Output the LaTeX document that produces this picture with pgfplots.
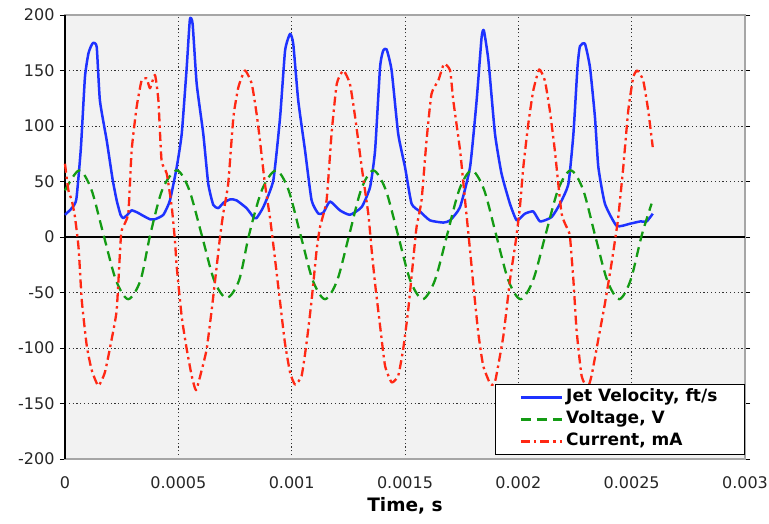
\documentclass[border=0pt]{standalone}
\usepackage{fontspec}
\setmainfont{DejaVu Sans}
\usepackage{pgfplots}
\pgfplotsset{compat=1.18}

\definecolor{jetblue}{RGB}{30,50,255}
\definecolor{voltgreen}{RGB}{20,155,20}
\definecolor{currred}{RGB}{255,40,20}
\definecolor{plotbg}{RGB}{242,242,242}
\definecolor{framegray}{RGB}{166,166,166}

\begin{document}
\begin{tikzpicture}
\useasboundingbox (-65pt,-64pt) rectangle (704pt,459pt);
\begin{axis}[
  at={(0,0)}, anchor=south west,
  scale only axis, width=680pt, height=444pt,
  xmin=0, xmax=0.003, ymin=-200, ymax=200,
  clip=false,
  scaled x ticks=false,
  xtick={0,0.0005,0.001,0.0015,0.002,0.0025,0.003},
  xticklabels={0,0.0005,0.001,0.0015,0.002,0.0025,0.003},
  ytick={-200,-150,-100,-50,0,50,100,150,200},
  yticklabels={-200,-150,-100,-50,0,50,100,150,200},
  tick align=outside,
  major tick length=5pt,
  xtick style={draw=none},
  ytick style={black, line width=0.8pt},
  ticklabel style={font=\fontsize{16}{19}\selectfont, text=black!85},
  xticklabel style={yshift=-9pt},
  yticklabel style={xshift=-2pt},
  xlabel={Time, s},
  xlabel style={font=\bfseries\fontsize{18.5}{22}\selectfont, yshift=-2pt},
  axis background/.style={fill=plotbg},
  axis line style={draw=framegray, line width=1.5pt},
  grid=major,
  grid style={black!80, line width=0.8pt, dash pattern=on 1.2pt off 2.6pt},
  legend style={at={(1,0.009)}, anchor=south east, draw=black, line width=1.2pt,
    fill=white, font=\bfseries\fontsize{17}{19}\selectfont,
    inner xsep=24pt, inner ysep=2pt,
    nodes={inner sep=3pt, text height=12pt, text depth=4pt}},
  legend cell align=left,
  legend image code/.code={\draw[#1] (0pt,0pt) -- (41pt,0pt);},
]
% zero line and left axis
\addplot[black, line width=1.2pt, forget plot] coordinates {(0,0)(0.003,0)};
\addplot[black, line width=1.3pt, forget plot] coordinates {(0,-200)(0,200)};

% Jet velocity
\addplot[jetblue, line width=2.5pt, line join=round, smooth, tension=0.3] coordinates {
(0,20)(0.00003,26)(0.00005,34)(0.00007,80)(0.000088,144)(0.000103,165)
(0.000115,172)(0.000125,175)(0.00014,171)(0.000154,123)(0.000184,87)
(0.00021,52)(0.000228,33)(0.000245,20)(0.000257,17)(0.000275,20)
(0.000294,24)(0.00032,22)(0.000346,19)(0.000375,16)(0.000397,16)
(0.000434,20)(0.000463,33)(0.000493,63)(0.000515,93)(0.000537,153)
(0.000551,196)(0.000563,192)(0.000581,138)(0.00061,93)(0.000632,48)
(0.000654,29)(0.000676,26)(0.0007,31)(0.00073,34)(0.000757,33)
(0.000801,26)(0.000831,18)(0.000845,17)(0.000875,27)(0.000919,51)
(0.000949,108)(0.000971,168)(0.000993,183)(0.001007,174)(0.001029,123)
(0.001059,78)(0.001088,33)(0.001118,21)(0.00114,22)(0.001169,32)
(0.001213,24)(0.001257,20)(0.001309,27)(0.001346,45)(0.001368,78)
(0.00139,153)(0.001404,168)(0.001419,169)(0.001441,150)(0.00147,93)
(0.0015,63)(0.001529,30)(0.001566,23)(0.00161,15)(0.001669,13)
(0.001699,15)(0.001743,27)(0.001787,63)(0.001816,123)(0.001838,180)
(0.001848,186)(0.001868,159)(0.001897,93)(0.001926,57)(0.001963,30)
(0.001993,15)(0.002029,21)(0.002066,23)(0.002096,14)(0.002147,18)
(0.002184,30)(0.002221,48)(0.002243,93)(0.002261,153)(0.002272,172)
(0.002294,174)(0.002316,153)(0.002338,108)(0.002353,63)(0.002382,30)
(0.002434,10)(0.002493,12)(0.002537,14)(0.002566,14)(0.002593,21)
};
\addlegendentry{Jet Velocity, ft/s}

% Voltage
\addplot[voltgreen, line width=2.3pt, smooth, dash pattern=on 10pt off 6pt] coordinates {
(0,42)(0.000062,60)(0.000116,43)(0.00017,2)(0.000225,-39)(0.000279,-56)
(0.000333,-39)(0.000376,2)(0.00043,43)(0.000493,60)(0.000547,43)
(0.000603,2)(0.000658,-39)(0.000713,-55)(0.000768,-39)(0.000812,2)
(0.000870,43)(0.000931,60)(0.000985,43)(0.001039,2)(0.001093,-39)
(0.001147,-56)(0.001201,-39)(0.001254,2)(0.001307,43)(0.00136,60)
(0.001414,43)(0.001469,2)(0.001523,-39)(0.001578,-56)(0.001632,-39)
(0.001686,2)(0.00174,43)(0.001794,60)(0.001848,43)(0.001902,2)
(0.001956,-39)(0.00201,-56)(0.002065,-39)(0.00212,2)(0.002176,43)
(0.002231,60)(0.002285,43)(0.002338,2)(0.002392,-39)(0.002445,-56)
(0.002495,-39)(0.002545,2)(0.002588,30)
};
\addlegendentry{Voltage, V}

% Current
\addplot[currred, line width=2.3pt, line join=round, smooth, tension=0.3, dash pattern=on 9pt off 4pt on 2.5pt off 4pt] coordinates {
(0,66)(0.000015,42)(0.00003,33)(0.000044,18)(0.00006,-10)(0.000074,-57)
(0.000096,-98)(0.000118,-120)(0.000147,-134)(0.000176,-122)(0.000206,-92)
(0.000228,-66)(0.000243,-12)(0.00025,6)(0.000279,21)(0.000294,78)
(0.000316,117)(0.000338,141)(0.00036,143)(0.000375,134)(0.000397,146)
(0.000412,123)(0.000426,69)(0.000449,57)(0.000471,27)(0.000485,-3)
(0.000493,-27)(0.000515,-72)(0.000537,-101)(0.000559,-125)(0.000578,-138)
(0.000603,-120)(0.000625,-101)(0.000647,-66)(0.000669,-27)(0.000684,0)
(0.000698,21)(0.00072,48)(0.000743,108)(0.000765,135)(0.000794,150)
(0.000824,138)(0.000846,110)(0.00086,87)(0.000882,48)(0.000904,18)
(0.000922,-12)(0.000948,-57)(0.00097,-95)(0.000993,-122)(0.001015,-133)
(0.001044,-125)(0.001066,-95)(0.001088,-57)(0.00111,-12)(0.001125,9)
(0.001154,33)(0.001176,93)(0.001199,138)(0.001228,150)(0.001257,138)
(0.00128,108)(0.001309,63)(0.001338,21)(0.001353,-12)(0.001368,-42)
(0.00139,-80)(0.001412,-116)(0.001441,-131)(0.00147,-125)(0.001492,-101)
(0.001514,-66)(0.001536,-21)(0.001551,9)(0.001573,33)(0.001595,87)
(0.001617,129)(0.001647,141)(0.001672,156)(0.001699,150)(0.001713,123)
(0.001743,78)(0.001765,33)(0.001787,-12)(0.001801,-42)(0.001823,-86)
(0.001845,-116)(0.001875,-132)(0.001888,-133)(0.0019,-128)(0.001934,-89)
(0.001963,-39)(0.001985,-9)(0.001993,3)(0.002007,27)(0.002022,63)
(0.002044,102)(0.002066,132)(0.002092,151)(0.002117,141)(0.002139,114)
(0.002161,78)(0.002191,21)(0.00222,6)(0.002228,0)(0.002243,-39)
(0.002257,-84)(0.002279,-125)(0.002305,-136)(0.002323,-125)(0.002353,-92)
(0.002382,-60)(0.002411,-24)(0.002433,6)(0.002441,18)(0.002463,63)
(0.002485,114)(0.002507,144)(0.002525,150)(0.002551,141)(0.002573,114)
(0.002593,81)
};
\addlegendentry{Current, mA}
\end{axis}
\end{tikzpicture}
\end{document}
